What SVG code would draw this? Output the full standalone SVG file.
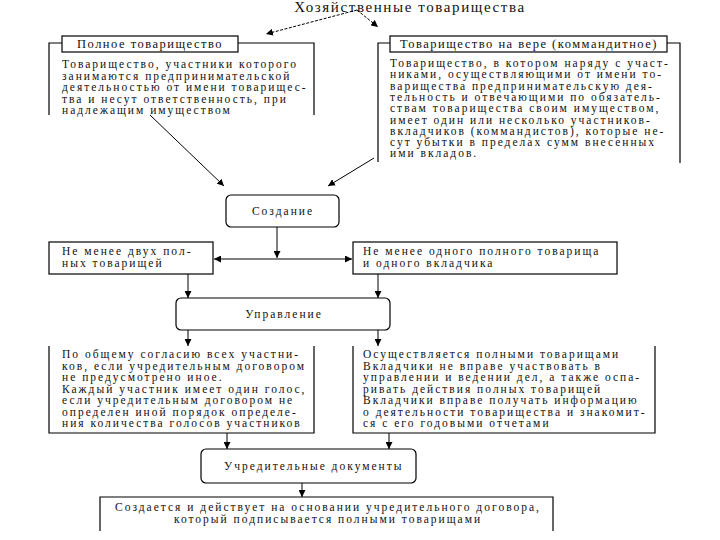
<svg xmlns="http://www.w3.org/2000/svg" width="720" height="540" viewBox="0 0 720 540" font-family="'Liberation Serif', 'Times New Roman', serif">
<defs>
<marker id="ah" viewBox="0 0 10 10" refX="10" refY="5" markerWidth="7" markerHeight="7" orient="auto" markerUnits="userSpaceOnUse">
<path d="M0,0 L10,5 L0,10 z" fill="#000"/>
</marker>
</defs>
<style>
text{font-family:'Liberation Serif','Times New Roman',serif;fill:#111;}
.t{font-size:11.5px;letter-spacing:2px;}
.lbl{font-size:12.5px;letter-spacing:1.5px;}
.ttl{font-size:15px;letter-spacing:1.6px;}
.box{fill:#fff;stroke:#000;stroke-width:1.2;}
.fr{fill:none;stroke:#000;stroke-width:1.2;}
.c{fill:none;stroke:#000;stroke-width:1;}
.d{fill:none;stroke:#000;stroke-width:1;stroke-dasharray:3 1.5;}
</style>
<rect width="720" height="540" fill="#fff"/>

<g id="title">
<text class="ttl" x="410" y="12" text-anchor="middle">Хозяйственные товарищества</text>
</g>

<g id="connectors">
<line class="d" x1="357" y1="10" x2="266" y2="34" marker-end="url(#ah)"/>
<line class="d" x1="357" y1="10" x2="378" y2="27" marker-end="url(#ah)"/>
<line class="c" x1="150" y1="115" x2="224" y2="186" marker-end="url(#ah)"/>
<line class="c" x1="374" y1="158" x2="328" y2="186" marker-end="url(#ah)"/>
<line class="c" x1="277" y1="227" x2="277" y2="258" marker-end="url(#ah)"/>
<line class="c" x1="277" y1="259" x2="214" y2="259" marker-end="url(#ah)"/>
<line class="c" x1="277" y1="259" x2="352" y2="259" marker-end="url(#ah)"/>
<line class="c" x1="188" y1="274" x2="188" y2="298" marker-end="url(#ah)"/>
<line class="c" x1="378" y1="274" x2="378" y2="298" marker-end="url(#ah)"/>
<line class="c" x1="188" y1="330" x2="188" y2="346" marker-end="url(#ah)"/>
<line class="c" x1="378" y1="330" x2="378" y2="346" marker-end="url(#ah)"/>
<line class="c" x1="227" y1="433" x2="227" y2="449" marker-end="url(#ah)"/>
<line class="c" x1="389" y1="433" x2="389" y2="449" marker-end="url(#ah)"/>
<line class="c" x1="302" y1="483" x2="302" y2="497" marker-end="url(#ah)"/>
</g>

<g id="full">
<path class="fr" d="M49,115 V43 H62 M238,43 H314 V115"/>
<rect class="box" x="62" y="36" width="176" height="16"/>
<text class="lbl" x="150" y="48" text-anchor="middle">Полное товарищество</text>
<text class="t" x="62" y="68">Товарищество, участники которого</text>
<text class="t" x="62" y="79.5">занимаются предпринимательской</text>
<text class="t" x="62" y="91">деятельностью от имени товарищес-</text>
<text class="t" x="62" y="102.5">тва и несут ответственность, при</text>
<text class="t" x="62" y="114">надлежащим имуществом</text>
</g>

<g id="limited">
<path class="fr" d="M378,162 V43 H390 M667,43 H680 V163"/>
<rect class="box" x="390" y="36" width="277" height="16"/>
<text class="lbl" x="529" y="48" text-anchor="middle">Товарищество на вере (коммандитное)</text>
<text class="t" x="390" y="67">Товарищество, в котором наряду с участ-</text>
<text class="t" x="390" y="78.3">никами, осуществляющими от имени то-</text>
<text class="t" x="390" y="89.6">варищества предпринимательскую дея-</text>
<text class="t" x="390" y="100.9">тельность и отвечающими по обязатель-</text>
<text class="t" x="390" y="112.2">ствам товарищества своим имуществом,</text>
<text class="t" x="390" y="123.5">имеет один или несколько участников-</text>
<text class="t" x="390" y="134.8">вкладчиков (коммандистов), которые не-</text>
<text class="t" x="390" y="146.1">сут убытки в пределах сумм внесенных</text>
<text class="t" x="390" y="157.4">ими вкладов.</text>
</g>

<g id="creation">
<rect class="box" x="226" y="195" width="113" height="32" rx="5"/>
<text class="t" x="283" y="215" text-anchor="middle">Создание</text>
</g>

<g id="two-partners">
<rect class="box" x="49" y="242" width="164" height="32"/>
<text class="t" x="62" y="255">Не менее двух пол-</text>
<text class="t" x="62" y="267">ных товарищей</text>
</g>

<g id="one-partner">
<rect class="box" x="353" y="242" width="264" height="32"/>
<text class="t" x="363" y="255">Не менее одного полного товарища</text>
<text class="t" x="363" y="267">и одного вкладчика</text>
</g>

<g id="management">
<rect class="box" x="176" y="298" width="214" height="32" rx="5"/>
<text class="t" x="284" y="318" text-anchor="middle">Управление</text>
</g>

<g id="mgmt-full">
<path class="fr" d="M49,346 V433 H314 V346"/>
<text class="t" x="62" y="358">По общему согласию всех участни-</text>
<text class="t" x="62" y="369.5">ков, если учредительным договором</text>
<text class="t" x="62" y="381">не предусмотрено иное.</text>
<text class="t" x="62" y="392.5">Каждый участник имеет один голос,</text>
<text class="t" x="62" y="404">если учредительным договором не</text>
<text class="t" x="62" y="415.5">определен иной порядок определе-</text>
<text class="t" x="62" y="427">ния количества голосов участников</text>
</g>

<g id="mgmt-limited">
<path class="fr" d="M353,346 V433 H655 V346"/>
<text class="t" x="363" y="358">Осуществляется полными товарищами</text>
<text class="t" x="363" y="369.5">Вкладчики не вправе участвовать в</text>
<text class="t" x="363" y="381">управлении и ведении дел, а также оспа-</text>
<text class="t" x="363" y="392.5">ривать действия полных товарищей</text>
<text class="t" x="363" y="404">Вкладчики вправе получать информацию</text>
<text class="t" x="363" y="415.5">о деятельности товарищества и знакомит-</text>
<text class="t" x="363" y="427">ся с его годовыми отчетами</text>
</g>

<g id="documents">
<rect class="box" x="201" y="449" width="215" height="34" rx="5"/>
<text class="t" x="224" y="470">Учредительные документы</text>
</g>

<g id="contract">
<path class="fr" d="M100,531 V497 H553 V531"/>
<text class="t" x="328" y="511" text-anchor="middle">Создается и действует на основании учредительного договора,</text>
<text class="t" x="328" y="523" text-anchor="middle">который подписывается полными товарищами</text>
</g>
</svg>
